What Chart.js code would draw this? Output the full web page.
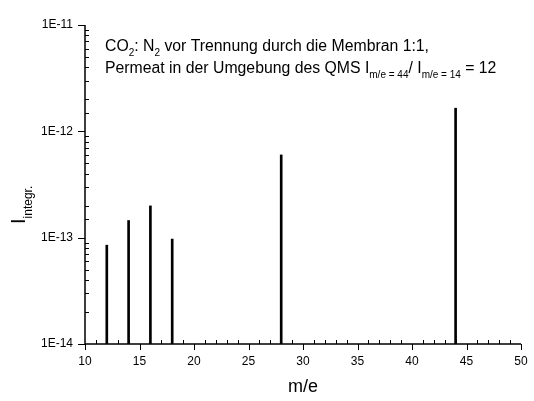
<!DOCTYPE html>
<html>
<head>
<meta charset="utf-8">
<script src="https://cdn.jsdelivr.net/npm/chart.js@4"></script>
<style>
  html, body { margin: 0; padding: 0; background: #fff; }
  #wrap { width: 534px; height: 401px; }
</style>
</head>
<body>
<div id="wrap"><canvas id="spektrum" width="534" height="401"></canvas></div>
<script>
// Massenspektrum, Werte
const massen = [12, 14, 16, 18, 28, 44];
const intensitaeten = [8.5e-14, 1.45e-13, 1.99e-13, 9.7e-14, 6.0e-13, 1.65e-12];
const xTicks = [10, 15, 20, 25, 30, 35, 40, 45, 50];
const yTickLabels = ['1E-14', '1E-13', '1E-12', '1E-11'];
const yExponents = [-14, -13, -12, -11];

const FONT = "'Liberation Sans', Arial, sans-serif";

// Text mit Tiefstellungen zeichnen: runs = [[text, sub?], ...]
function drawRuns(ctx, runs, x, y, size, subSize, subShift) {
    let cx = x;
    runs.forEach(([txt, sub]) => {
        ctx.font = (sub ? subSize : size) + 'px ' + FONT;
        ctx.fillText(txt, cx, sub ? y + subShift : y);
        cx += ctx.measureText(txt).width;
    });
}

const originAxes = {
    id: 'originAxes',
    afterDraw(chart) {
        const ctx = chart.ctx;
        const xs = chart.scales.x;
        const ys = chart.scales.y;
        const a = chart.chartArea;
        ctx.save();
        ctx.strokeStyle = '#000';
        ctx.fillStyle = '#000';

        // Achsenlinien
        ctx.lineWidth = 1.5;
        ctx.beginPath();
        ctx.moveTo(a.left, a.top);
        ctx.lineTo(a.left, a.bottom);
        ctx.lineTo(a.right, a.bottom);
        ctx.stroke();

        ctx.lineWidth = 1;
        // x: Hauptstriche nach aussen, Nebenstriche nach innen
        for (let v = xs.min; v <= xs.max; v++) {
            const px = Math.round(xs.getPixelForValue(v)) + 0.5;
            ctx.beginPath();
            if (xTicks.includes(v)) {
                ctx.moveTo(px, a.bottom);
                ctx.lineTo(px, a.bottom + 6);
            } else {
                ctx.moveTo(px, a.bottom);
                ctx.lineTo(px, a.bottom - 4);
            }
            ctx.stroke();
        }
        // y: Dekaden nach aussen, 2..9 nach innen
        ys.ticks.forEach(t => {
            const py = Math.round(ys.getPixelForValue(t.value)) + 0.5;
            const e = Math.log10(t.value);
            const major = Math.abs(e - Math.round(e)) < 1e-6;
            ctx.beginPath();
            if (major) {
                ctx.moveTo(a.left - 7, py);
                ctx.lineTo(a.left, py);
            } else {
                ctx.moveTo(a.left, py);
                ctx.lineTo(a.left + 4, py);
            }
            ctx.stroke();
        });

        // Achsentitel
        ctx.textAlign = 'center';
        ctx.textBaseline = 'alphabetic';
        ctx.font = '18px ' + FONT;
        ctx.fillText('m/e', (a.left + a.right) / 2, 392);

        ctx.save();
        ctx.translate(25, 224);
        ctx.rotate(-Math.PI / 2);
        ctx.textAlign = 'left';
        drawRuns(ctx, [['I', false], ['integr.', true]], 0, 0, 20, 12, 7);
        ctx.restore();

        // Beschriftung
        ctx.textAlign = 'left';
        drawRuns(ctx, [
            ['CO', false], ['2', true], [': N', false], ['2', true],
            [' vor Trennung durch die Membran 1:1,', false]
        ], 105, 51, 15.8, 10, 5);
        drawRuns(ctx, [
            ['Permeat in der Umgebung des QMS I', false], ['m/e = 44', true],
            ['/ I', false], ['m/e = 14', true], [' = 12', false]
        ], 105, 73, 15.8, 10, 5);
        ctx.restore();
    }
};

new Chart(document.getElementById('spektrum'), {
    type: 'bar',
    data: {
        datasets: [{
            data: massen.map((m, i) => ({ x: m, y: intensitaeten[i] })),
            backgroundColor: '#000',
            borderWidth: 0,
            barThickness: 2
        }]
    },
    options: {
        responsive: false,
        animation: false,
        layout: { padding: { top: 25, right: 13, left: 0, bottom: 0 } },
        plugins: { legend: { display: false }, tooltip: { enabled: false } },
        scales: {
            x: {
                type: 'linear',
                min: 10,
                max: 50,
                offset: false,
                grid: { display: false, drawTicks: false },
                border: { display: false },
                afterBuildTicks: scale => {
                    scale.ticks = xTicks.map(v => ({ value: v }));
                },
                ticks: {
                    color: '#000',
                    font: { family: FONT, size: 12 },
                    padding: 10,
                    maxRotation: 0,
                    autoSkip: false
                },
                afterFit: scale => {
                    scale.height = 57;
                    scale.paddingLeft = 0;
                    scale.paddingRight = 0;
                }
            },
            y: {
                type: 'logarithmic',
                min: 1e-14,
                max: 1e-11,
                grid: { display: false, drawTicks: false },
                border: { display: false },
                ticks: {
                    color: '#000',
                    font: { family: FONT, size: 12 },
                    padding: 12,
                    autoSkip: false,
                    callback: value => {
                        const e = Math.log10(value);
                        const idx = yExponents.indexOf(Math.round(e));
                        if (Math.abs(e - Math.round(e)) > 1e-6 || idx < 0) return '';
                        return yTickLabels[idx];
                    }
                },
                afterFit: scale => {
                    scale.width = 85;
                    scale.paddingTop = 0;
                    scale.paddingBottom = 0;
                }
            }
        }
    },
    plugins: [originAxes]
});
</script>
</body>
</html>
